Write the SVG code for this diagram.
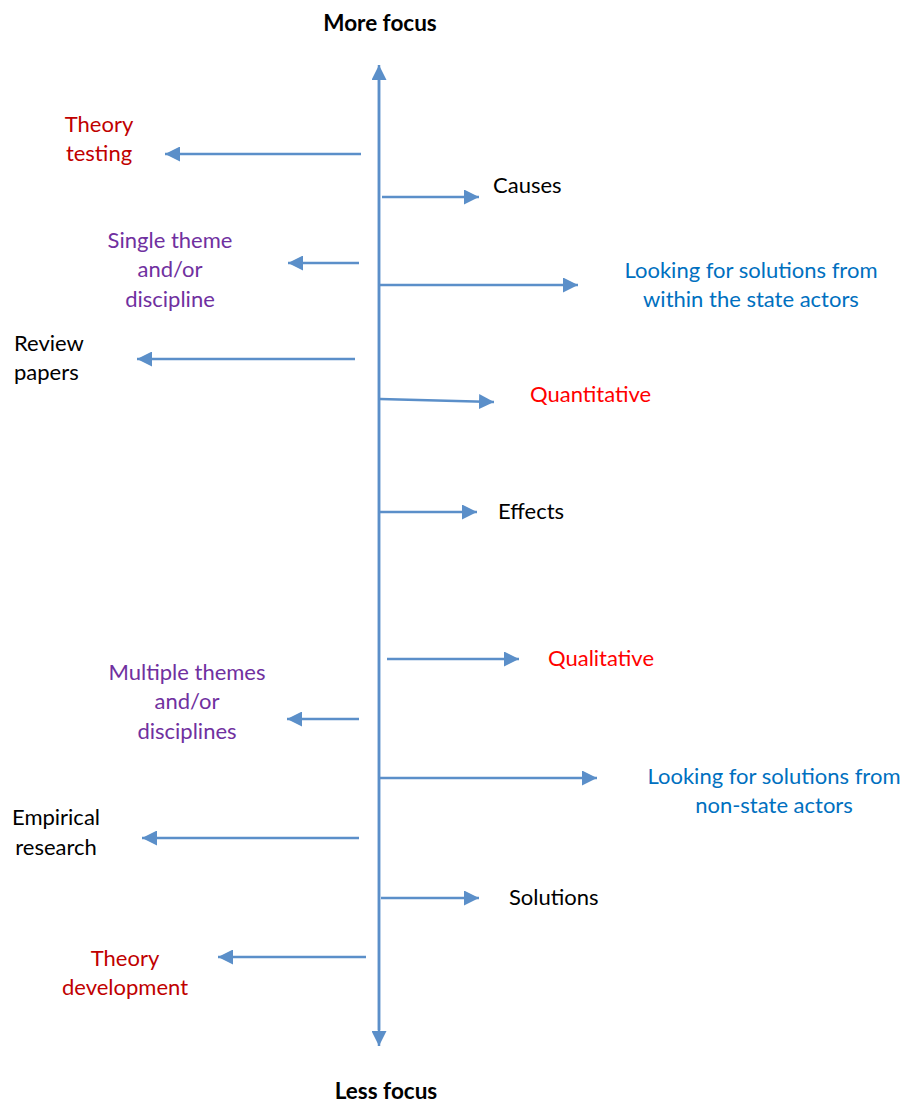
<svg xmlns="http://www.w3.org/2000/svg" width="906" height="1105" viewBox="0 0 906 1105">
<style>
text{font-family:Lato,"Liberation Sans",sans-serif;font-size:22px}
.b{font-weight:bold;font-size:22.5px}
.blk{fill:#000}
.red{fill:#C00000}
.brt{fill:#FF0000}
.pur{fill:#7030A0}
.blu{fill:#0070C0}
.c{text-anchor:middle}
.ln{stroke:#5B8FC9;stroke-width:2.5;fill:none}
</style>
<defs>
<marker id="ah" viewBox="0 0 10 10" refX="10" refY="5" markerWidth="6" markerHeight="6" markerUnits="strokeWidth" orient="auto">
<path d="M0,0 L10,5 L0,10 Z" fill="#5B8FC9"/>
</marker>
</defs>
<rect width="906" height="1105" fill="#fff"/>
<g id="connectors">
<line class="ln" x1="379" y1="1030" x2="379" y2="65" marker-end="url(#ah)"/>
<line class="ln" x1="379" y1="80" x2="379" y2="1046" marker-end="url(#ah)"/>
<line class="ln" x1="361" y1="154" x2="165" y2="154" marker-end="url(#ah)"/>
<line class="ln" x1="382" y1="197" x2="479" y2="197" marker-end="url(#ah)"/>
<line class="ln" x1="359" y1="263" x2="288" y2="263" marker-end="url(#ah)"/>
<line class="ln" x1="380" y1="285" x2="578" y2="285" marker-end="url(#ah)"/>
<line class="ln" x1="355" y1="359" x2="137" y2="359" marker-end="url(#ah)"/>
<line class="ln" x1="380" y1="399" x2="494" y2="402" marker-end="url(#ah)"/>
<line class="ln" x1="380" y1="512" x2="477" y2="512" marker-end="url(#ah)"/>
<line class="ln" x1="387" y1="659" x2="519" y2="659" marker-end="url(#ah)"/>
<line class="ln" x1="359" y1="719" x2="287" y2="719" marker-end="url(#ah)"/>
<line class="ln" x1="380" y1="778" x2="597" y2="778" marker-end="url(#ah)"/>
<line class="ln" x1="359" y1="838" x2="142" y2="838" marker-end="url(#ah)"/>
<line class="ln" x1="381" y1="898" x2="479" y2="898" marker-end="url(#ah)"/>
<line class="ln" x1="366" y1="957" x2="218" y2="957" marker-end="url(#ah)"/>
</g>
<g id="more-focus"><text class="b blk c" x="380" y="31">More focus</text></g>
<g id="less-focus"><text class="b blk c" x="386" y="1099">Less focus</text></g>
<g id="theory-testing"><text class="red c" x="99" y="132">Theory</text><text class="red c" x="99" y="161">testing</text></g>
<g id="causes"><text class="blk" x="493" y="193">Causes</text></g>
<g id="single-theme"><text class="pur c" x="170" y="248">Single theme</text><text class="pur c" x="170" y="277">and/or</text><text class="pur c" x="170" y="307">discipline</text></g>
<g id="within-state"><text class="blu c" x="751" y="278">Looking for solutions from</text><text class="blu c" x="751" y="307">within the state actors</text></g>
<g id="review"><text class="blk" x="14" y="351">Review</text><text class="blk" x="14" y="380">papers</text></g>
<g id="quantitative"><text class="brt" x="530" y="402">Quantitative</text></g>
<g id="effects"><text class="blk" x="498" y="519">Effects</text></g>
<g id="qualitative"><text class="brt" x="548" y="666">Qualitative</text></g>
<g id="multiple-themes"><text class="pur c" x="187" y="680">Multiple themes</text><text class="pur c" x="187" y="709">and/or</text><text class="pur c" x="187" y="739">disciplines</text></g>
<g id="non-state"><text class="blu c" x="774" y="784">Looking for solutions from</text><text class="blu c" x="774" y="813">non-state actors</text></g>
<g id="empirical"><text class="blk c" x="56" y="825">Empirical</text><text class="blk c" x="56" y="855">research</text></g>
<g id="solutions"><text class="blk" x="509" y="905">Solutions</text></g>
<g id="theory-development"><text class="red c" x="125" y="966">Theory</text><text class="red c" x="125" y="995">development</text></g>
</svg>
